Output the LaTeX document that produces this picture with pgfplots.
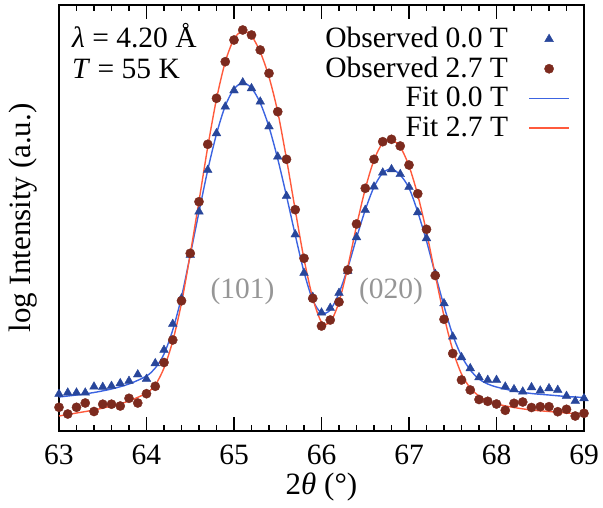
\documentclass[border=0pt]{standalone}
\usepackage{fontspec}
\setmainfont{Liberation Serif}
\usepackage{pgfplots}
\pgfplotsset{compat=1.18}
\definecolor{obsblue}{RGB}{40,70,155}
\definecolor{obsred}{RGB}{124,42,30}
\definecolor{fitblue}{RGB}{60,100,225}
\definecolor{fitred}{RGB}{255,90,60}
\definecolor{annot}{RGB}{150,150,150}
\begin{document}
\fontsize{29.5}{30}\selectfont
\begin{tikzpicture}
\begin{axis}[
  name=ax,
  scale only axis,
  width=525pt, height=426pt,
  xmin=63, xmax=69, ymin=1, ymax=427,
  xtick={63,64,65,66,67,68,69},
  minor x tick num=4,
  ytick=\empty,
  tick align=inside,
  major tick length=14pt, minor tick length=6pt,
  axis line style={line width=2pt},
  every tick/.style={black, line width=1.3pt},
  /pgf/number format/assume math mode=true,
  xticklabel style={yshift=-4pt},
  xlabel={2\textit{θ} (°)},
  ylabel={log Intensity (a.u.)},
  xlabel style={at={(axis description cs:0.5,-0.15)}, anchor=base, font=\fontsize{31}{32}\selectfont},
  ylabel style={at={(axis description cs:-0.0686,0.5)}, anchor=center, font=\fontsize{31}{32}\selectfont},
  legend style={draw=none, fill=none, inner sep=0pt,
    at={(axis description cs:1,1)}, anchor=north east,
    xshift=-14pt, yshift=-19pt, column sep=17pt,
    nodes={inner sep=3.35pt, text height=20pt, text depth=3pt}},
  legend plot pos=right,
  legend cell align=right,
  legend image code/.code={\path[draw=none,fill=none] (0pt,-10pt) rectangle (40pt,4pt);
    \draw[mark repeat=2,mark phase=2,#1] plot coordinates {(0pt,0pt) (20pt,0pt) (40pt,0pt)};},
]
\addplot[only marks, mark=triangle*, mark size=5pt, color=obsblue, fill=obsblue] coordinates {
(63.0,38) (63.1,39.3) (63.2,39.3) (63.3,39.3) (63.4,45.3) (63.5,45) (63.6,46) (63.7,48.7) (63.8,51) (63.9,57.5)
(64.0,53) (64.1,68.7) (64.2,82) (64.3,108) (64.4,133.5) (64.5,177) (64.6,220.3) (64.7,262) (64.8,298.7) (64.9,325.3)
(65.0,341.5) (65.1,349.5) (65.2,343.7) (65.3,330.3) (65.4,305.5) (65.5,275.3) (65.6,236) (65.7,197.5) (65.8,159) (65.9,135)
(66.0,119.3) (66.1,124) (66.2,139) (66.3,161) (66.4,194.7) (66.5,222) (66.6,245.3) (66.7,259.3) (66.8,262.7) (66.9,257.8)
(67.0,245) (67.1,219.7) (67.2,193.7) (67.3,158) (67.4,128.7) (67.5,95.3) (67.6,74.7) (67.7,63.7) (67.8,54.7) (67.9,52)
(68.0,52) (68.1,45.3) (68.2,42.7) (68.3,40.3) (68.4,44.7) (68.5,41.3) (68.6,43.7) (68.7,42) (68.8,36) (68.9,31)
(69.0,33.7)
};
\addlegendentry{Observed 0.0 T}
\addplot[only marks, mark=*, mark size=4.6pt, color=obsred, fill=obsred] coordinates {
(63.0,24.7) (63.1,18) (63.2,24.7) (63.3,29) (63.4,20.5) (63.5,27.8) (63.6,27.8) (63.7,26) (63.8,33.7) (63.9,29)
(64.0,38.3) (64.1,45.7) (64.2,69.5) (64.3,92) (64.4,131.2) (64.5,178.7) (64.6,230.3) (64.7,287.7) (64.8,333.7) (64.9,370.3)
(65.0,392) (65.1,402) (65.2,397) (65.3,382) (65.4,358.7) (65.5,320.3) (65.6,272.7) (65.7,222.3) (65.8,173.7) (65.9,133.7)
(66.0,106) (66.1,112) (66.2,130) (66.3,162) (66.4,208) (66.5,243.7) (66.6,272.7) (66.7,290.3) (66.8,292.7) (66.9,286)
(67.0,267) (67.1,238.3) (67.2,202.7) (67.3,156.5) (67.4,112.7) (67.5,78.5) (67.6,52) (67.7,42) (67.8,32.5) (67.9,30.7)
(68.0,28) (68.1,21.7) (68.2,28.7) (68.3,30) (68.4,24.5) (68.5,25.3) (68.6,25.3) (68.7,20.3) (68.8,22.7) (68.9,16)
(69.0,18.7)
};
\addlegendentry{Observed 2.7 T}
\addplot[smooth, tension=0.5, color=fitblue, line width=1.4pt, mark=none] coordinates {
(63.0,35) (63.2,37) (63.4,39.5) (63.6,43) (63.8,48) (64.0,56) (64.1,64) (64.2,78) (64.3,102) (64.4,135)
(64.5,177) (64.6,220) (64.7,262) (64.8,298) (64.9,326) (65.0,343) (65.1,349) (65.2,344) (65.3,329) (65.4,305)
(65.5,273) (65.6,236) (65.7,197) (65.8,160) (65.9,132) (66.0,119) (66.1,122) (66.2,139) (66.3,164) (66.4,194)
(66.5,222) (66.6,245) (66.7,259) (66.8,263) (66.9,257) (67.0,244) (67.1,220) (67.2,191) (67.3,158) (67.4,126)
(67.5,97) (67.6,76) (67.7,62) (67.8,53) (67.9,48) (68.0,45) (68.2,41) (68.4,38.5) (68.6,37) (68.8,35.5) (69.0,34.5)
};
\addlegendentry{Fit 0.0 T}
\addplot[smooth, tension=0.5, color=fitred, line width=1.4pt, mark=none] coordinates {
(63.0,16) (63.2,19) (63.4,22) (63.6,26) (63.8,31) (64.0,39) (64.1,47) (64.2,64) (64.3,91) (64.4,129)
(64.5,178) (64.6,231) (64.7,285) (64.8,333) (64.9,370) (65.0,393) (65.1,401) (65.2,396) (65.3,380) (65.4,355)
(65.5,320) (65.6,273) (65.7,222) (65.8,173) (65.9,134) (66.0,110) (66.1,110) (66.2,130) (66.3,165) (66.4,206)
(66.5,243) (66.6,272) (66.7,289) (66.8,292) (66.9,285) (67.0,266) (67.1,237) (67.2,200) (67.3,157) (67.4,116)
(67.5,82) (67.6,58) (67.7,44) (67.8,36) (67.9,31) (68.0,28) (68.2,24.5) (68.4,22) (68.6,20.5) (68.8,19) (69.0,18)
};
\addlegendentry{Fit 2.7 T}
\node[anchor=base west, inner sep=0pt] at (axis description cs:0.0248,0.9014) {\textit{λ} = 4.20 Å};
\node[anchor=base west, inner sep=0pt] at (axis description cs:0.0248,0.8286) {\textit{T} = 55 K};
\node[annot, inner sep=0pt] at (axis cs:65.097,141) {(101)};
\node[annot, inner sep=0pt] at (axis cs:66.794,141) {(020)};
\end{axis}
\pgfresetboundingbox
\path ([xshift=-59pt,yshift=-76pt]ax.south west) rectangle ([xshift=19pt,yshift=5pt]ax.north east);
\end{tikzpicture}
\end{document}
